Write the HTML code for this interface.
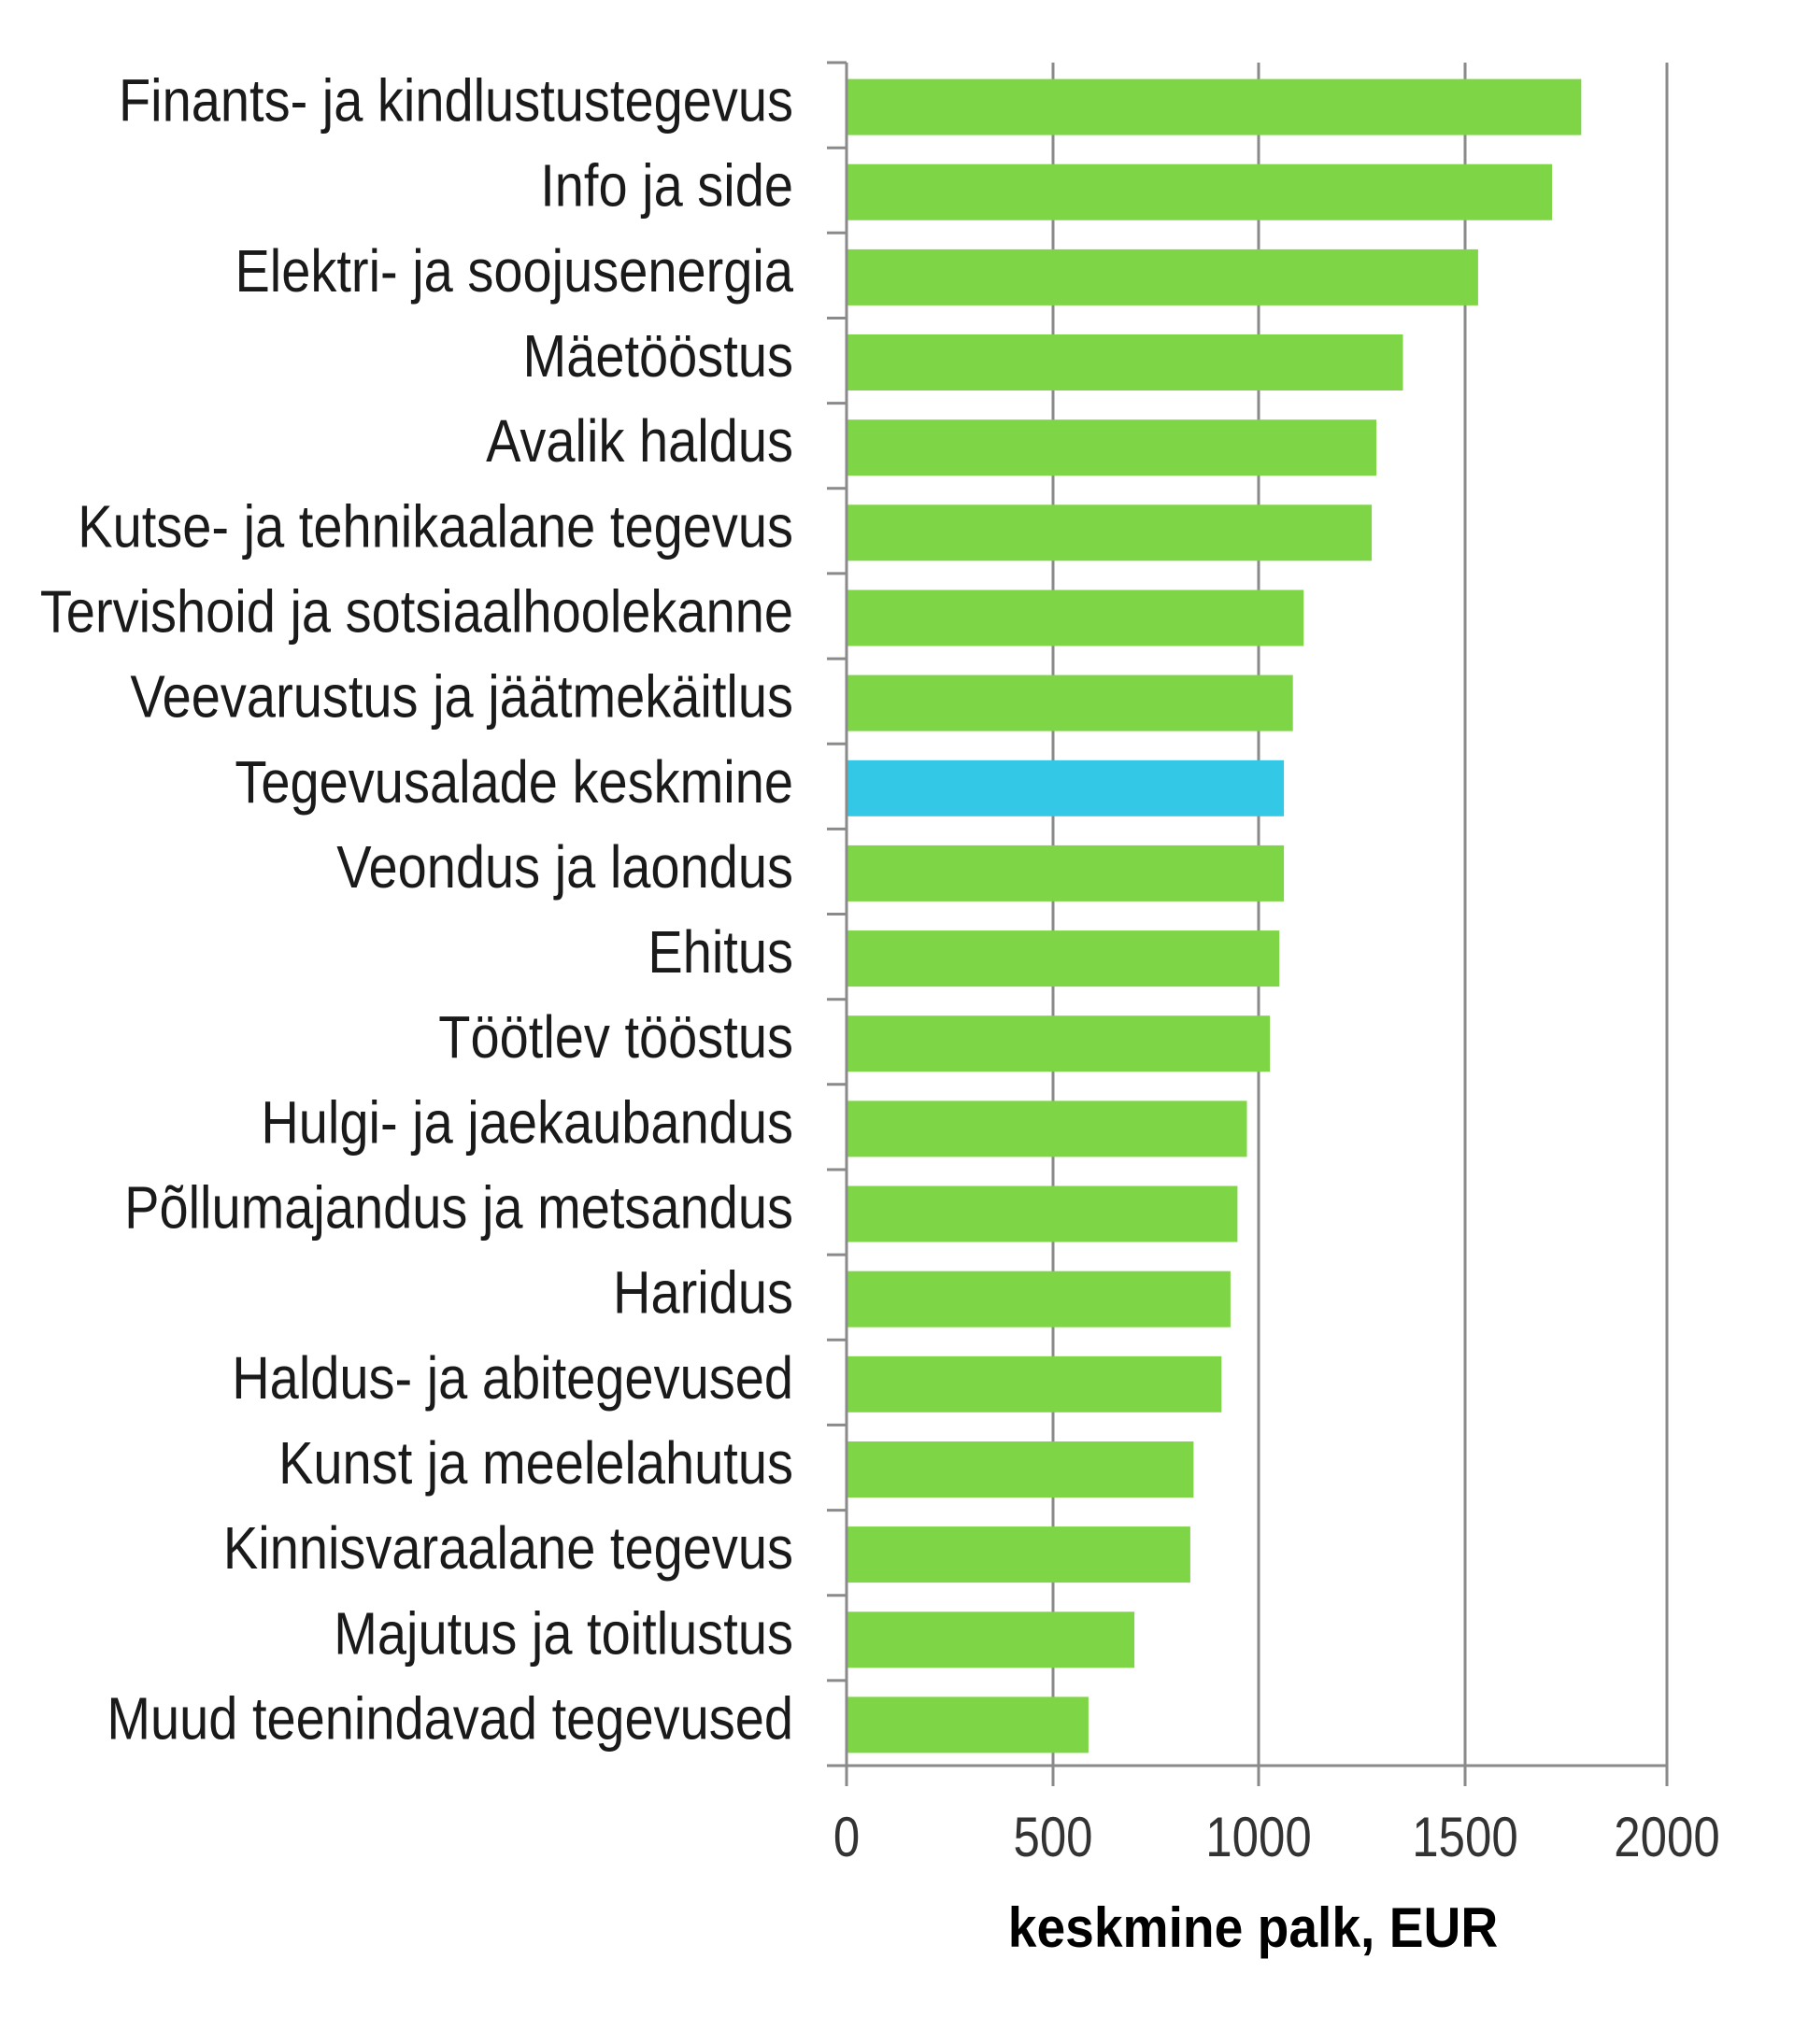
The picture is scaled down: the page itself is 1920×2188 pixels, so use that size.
<!DOCTYPE html>
<html><head><meta charset="utf-8"><style>html,body{margin:0;padding:0;background:#fff}svg{display:block}</style></head>
<body>
<svg width="1920" height="2188" viewBox="0 0 1920 2188" xmlns="http://www.w3.org/2000/svg" font-family="'Liberation Sans', sans-serif">
<g stroke="#8a8a8a" stroke-width="3">
<line x1="1127" y1="67" x2="1127" y2="1912"/>
<line x1="1347" y1="67" x2="1347" y2="1912"/>
<line x1="1568" y1="67" x2="1568" y2="1912"/>
<line x1="1784" y1="67" x2="1784" y2="1912"/>
<line x1="906" y1="67" x2="906" y2="1912"/>
<line x1="885" y1="1890" x2="1784" y2="1890"/>
<line x1="885" x2="906" y1="67" y2="67"/>
<line x1="885" x2="906" y1="158.2" y2="158.2"/>
<line x1="885" x2="906" y1="249.3" y2="249.3"/>
<line x1="885" x2="906" y1="340.5" y2="340.5"/>
<line x1="885" x2="906" y1="431.6" y2="431.6"/>
<line x1="885" x2="906" y1="522.8" y2="522.8"/>
<line x1="885" x2="906" y1="613.9" y2="613.9"/>
<line x1="885" x2="906" y1="705.1" y2="705.1"/>
<line x1="885" x2="906" y1="796.2" y2="796.2"/>
<line x1="885" x2="906" y1="887.4" y2="887.4"/>
<line x1="885" x2="906" y1="978.5" y2="978.5"/>
<line x1="885" x2="906" y1="1069.7" y2="1069.7"/>
<line x1="885" x2="906" y1="1160.8" y2="1160.8"/>
<line x1="885" x2="906" y1="1252" y2="1252"/>
<line x1="885" x2="906" y1="1343.1" y2="1343.1"/>
<line x1="885" x2="906" y1="1434.3" y2="1434.3"/>
<line x1="885" x2="906" y1="1525.4" y2="1525.4"/>
<line x1="885" x2="906" y1="1616.6" y2="1616.6"/>
<line x1="885" x2="906" y1="1707.7" y2="1707.7"/>
<line x1="885" x2="906" y1="1798.9" y2="1798.9"/>
</g>
<g fill="#7ED646">
<rect x="907.5" y="84.6" width="784.8" height="60"/>
<rect x="907.5" y="175.7" width="753.6" height="60"/>
<rect x="907.5" y="266.9" width="674.4" height="60"/>
<rect x="907.5" y="358.0" width="594.0" height="60"/>
<rect x="907.5" y="449.2" width="565.5" height="60"/>
<rect x="907.5" y="540.3" width="560.6" height="60"/>
<rect x="907.5" y="631.5" width="487.7" height="60"/>
<rect x="907.5" y="722.6" width="476.2" height="60"/>
<rect x="907.5" y="813.8" width="466.6" height="60" fill="#33C8E6"/>
<rect x="907.5" y="904.9" width="466.6" height="60"/>
<rect x="907.5" y="996.1" width="461.7" height="60"/>
<rect x="907.5" y="1087.2" width="451.6" height="60"/>
<rect x="907.5" y="1178.4" width="427.0" height="60"/>
<rect x="907.5" y="1269.5" width="416.9" height="60"/>
<rect x="907.5" y="1360.7" width="409.4" height="60"/>
<rect x="907.5" y="1451.8" width="399.8" height="60"/>
<rect x="907.5" y="1543.0" width="369.9" height="60"/>
<rect x="907.5" y="1634.1" width="366.4" height="60"/>
<rect x="907.5" y="1725.3" width="306.6" height="60"/>
<rect x="907.5" y="1816.4" width="257.4" height="60"/>
</g>
<g font-size="64" fill="#1a1a1a" text-anchor="end">
<text transform="translate(849,129.6) scale(0.875,1)">Finants- ja kindlustustegevus</text>
<text transform="translate(849,220.7) scale(0.875,1)">Info ja side</text>
<text transform="translate(849,311.9) scale(0.875,1)">Elektri- ja soojusenergia</text>
<text transform="translate(849,403.0) scale(0.875,1)">Mäetööstus</text>
<text transform="translate(849,494.2) scale(0.875,1)">Avalik haldus</text>
<text transform="translate(849,585.3) scale(0.875,1)">Kutse- ja tehnikaalane tegevus</text>
<text transform="translate(849,676.5) scale(0.875,1)">Tervishoid ja sotsiaalhoolekanne</text>
<text transform="translate(849,767.6) scale(0.875,1)">Veevarustus ja jäätmekäitlus</text>
<text transform="translate(849,858.8) scale(0.875,1)">Tegevusalade keskmine</text>
<text transform="translate(849,949.9) scale(0.875,1)">Veondus ja laondus</text>
<text transform="translate(849,1041.1) scale(0.875,1)">Ehitus</text>
<text transform="translate(849,1132.2) scale(0.875,1)">Töötlev tööstus</text>
<text transform="translate(849,1223.4) scale(0.875,1)">Hulgi- ja jaekaubandus</text>
<text transform="translate(849,1314.5) scale(0.875,1)">Põllumajandus ja metsandus</text>
<text transform="translate(849,1405.7) scale(0.875,1)">Haridus</text>
<text transform="translate(849,1496.8) scale(0.875,1)">Haldus- ja abitegevused</text>
<text transform="translate(849,1588.0) scale(0.875,1)">Kunst ja meelelahutus</text>
<text transform="translate(849,1679.1) scale(0.875,1)">Kinnisvaraalane tegevus</text>
<text transform="translate(849,1770.3) scale(0.875,1)">Majutus ja toitlustus</text>
<text transform="translate(849,1861.4) scale(0.875,1)">Muud teenindavad tegevused</text>
</g>
<g font-size="60" fill="#333" text-anchor="middle">
<text transform="translate(906,1987) scale(0.85,1)">0</text>
<text transform="translate(1127,1987) scale(0.85,1)">500</text>
<text transform="translate(1347,1987) scale(0.85,1)">1000</text>
<text transform="translate(1568,1987) scale(0.85,1)">1500</text>
<text transform="translate(1784,1987) scale(0.85,1)">2000</text>
</g>
<text transform="translate(1341,2084) scale(0.92,1)" font-size="60" font-weight="bold" text-anchor="middle" fill="#000">keskmine palk, EUR</text>
</svg>
</body></html>
